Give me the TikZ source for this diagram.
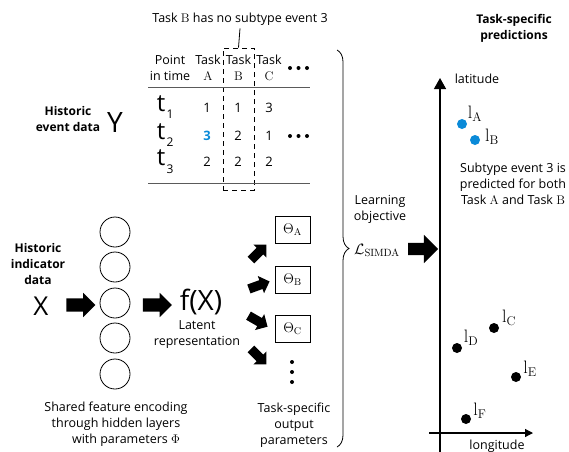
\documentclass[tikz,border=0pt]{standalone}
\usepackage{fix-cm}
\usepackage[no-math]{fontspec}
\setmainfont{Open Sans}
\usetikzlibrary{shapes.arrows,decorations.pathreplacing,arrows.meta}
\definecolor{ptblue}{RGB}{10,138,216}
\definecolor{rulegray}{RGB}{90,90,90}
\begin{document}
\begin{tikzpicture}[x=1pt,y=-1pt,
  txt/.style={font=\fontsize{12.5}{16}\selectfont, align=center, inner sep=0pt},
  boldtxt/.style={font=\fontsize{12}{16}\selectfont\bfseries, align=center, inner sep=0pt},
  hdr/.style={font=\fontsize{12.5}{16}\selectfont, align=center, inner sep=0pt},
  num/.style={font=\fontsize{13}{13}\selectfont, inner sep=0pt},
  tt/.style={font=\fontsize{24}{24}\selectfont, inner sep=0pt},
  tsub/.style={font=\fontsize{12}{12}\selectfont, inner sep=0pt},
  big/.style={font=\fontsize{28}{28}\selectfont, inner sep=0pt},
  fatarrow/.style={single arrow, fill=black, draw=none, inner sep=6.5pt,
     single arrow head extend=5.5pt, single arrow head indent=0pt, minimum height=29pt},
  smallarrow/.style={single arrow, fill=black, draw=none, inner sep=4.5pt,
     single arrow head extend=4.5pt, single arrow head indent=0pt, minimum height=22pt},
  neuron/.style={circle, draw, line width=0.8pt, minimum size=30pt, inner sep=0pt},
  thetabox/.style={draw, line width=0.8pt, minimum width=35pt, minimum height=27pt, inner sep=0pt,
     font=\fontsize{14}{14}\selectfont},
  pt/.style={circle, fill=black, inner sep=0pt, minimum size=10pt},
  ptb/.style={circle, fill=ptblue, inner sep=0pt, minimum size=10pt},
  lbl/.style={font=\fontsize{18}{18}\selectfont, inner sep=0pt},
  dotc/.style={circle, fill=black, inner sep=0pt, minimum size=4pt}
]
\useasboundingbox (0,0) rectangle (569,451);

% ---------------- table ----------------
\node[txt] (note) at (240,19) {Task $\mathrm{B}$ has no subtype event 3};
\node[draw, dashed, line width=0.8pt, dash pattern=on 5pt off 4pt,
      minimum width=31pt, minimum height=142pt, inner sep=0pt] (dbox) at (238.5,119) {};
\draw[line width=0.8pt] ([yshift=-3pt]note.south) -- (dbox.north);

\node[hdr] (hpt) at (170,68) {Point\\in time};
\node[hdr] (hA) at (208,68) {Task\\$\mathrm{A}$};
\node[hdr] (hB) at (238.5,68) {Task\\$\mathrm{B}$};
\node[hdr] (hC) at (269,68) {Task\\$\mathrm{C}$};
\node[dotc] (hd1) at (290,68) {};
\node[dotc] (hd2) at (298.5,68) {};
\node[dotc] (hd3) at (307,68) {};

\coordinate (r1a) at (148,87); \coordinate (r1b) at (310,87);
\coordinate (r2a) at (148,183); \coordinate (r2b) at (310,183);
\draw[line width=0.9pt, rulegray] (r1a) -- (r1b);
\draw[line width=0.9pt, rulegray] (r2a) -- (r2b);

\node[tt] (t1) at (161,104) {t};
\node[tsub] (t1s) at (170,114) {1};
\node[tt] (t2) at (161,132) {t};
\node[tsub] (t2s) at (170,142) {2};
\node[tt] (t3) at (161,158) {t};
\node[tsub] (t3s) at (170,169) {3};

\node[num] (a1) at (207,108) {1};
\node[num] (b1) at (238,108) {1};
\node[num] (c1) at (269,108) {3};
\node[num, text=ptblue, font=\fontsize{13}{13}\selectfont\bfseries] (a2) at (207,136) {3};
\node[num] (b2) at (238,136) {2};
\node[num] (c2) at (269,136) {1};
\node[dotc] (rd1) at (290,136) {};
\node[dotc] (rd2) at (298.5,136) {};
\node[dotc] (rd3) at (307,136) {};
\node[num] (a3) at (207,162) {2};
\node[num] (b3) at (238,162) {2};
\node[num] (c3) at (269,162) {2};

\node[boldtxt] (hed) at (68,119) {Historic\\event data};
\node[big] (Y) at (115,122) {Y};

% ---------------- network ----------------
\node[boldtxt] (hid) at (38,264) {Historic\\indicator\\data};
\node[big, font=\fontsize{26}{26}\selectfont] (X) at (41,306) {X};

\node[neuron] (n1) at (115,232) {};
\node[neuron] (n2) at (115,267) {};
\node[neuron] (n3) at (115,303) {};
\node[neuron] (n4) at (115,338) {};
\node[neuron] (n5) at (115,374) {};

\node[fatarrow] (arrX) at (77.5,305) {};
\node[fatarrow] (arrF) at (154,305) {};

\node[big] (fX) at (201,302) {f(X)};
\node[txt] (lat) at (197,335) {Latent\\representation};

\node[thetabox] (thA) at (292.5,230) {$\Theta_{\mathrm{A}}$};
\node[thetabox] (thB) at (292.5,280) {$\Theta_{\mathrm{B}}$};
\node[thetabox] (thC) at (292.5,329) {$\Theta_{\mathrm{C}}$};
\node[dotc] (vd1) at (292,362) {};
\node[dotc] (vd2) at (292,372) {};
\node[dotc] (vd3) at (292,382) {};

\node[smallarrow, rotate=45] (s1) at (257,254) {};
\node[smallarrow, rotate=20] (s2) at (257,286) {};
\node[smallarrow, rotate=-30] (s3) at (256,320) {};
\node[smallarrow, rotate=-45] (s4) at (257,355) {};

\node[txt] (shared) at (116,424) {Shared feature encoding\\through hidden layers\\\hspace*{1.6em}with parameters $\Phi$};
\node[txt] (tsop) at (294,425) {Task-specific\\output\\parameters};

\draw[line width=0.8pt, decorate, decoration={brace, amplitude=12pt}] (337,50) -- (337,447);

\node[txt] (lobj) at (380,209) {Learning\\objective};
\node[inner sep=0pt, font=\fontsize{15}{15}\selectfont] (L) at (377,250) {$\mathcal{L}_{\mathrm{SIMDA}}$};
\node[fatarrow, inner sep=6pt, single arrow head extend=8pt, minimum height=30pt] (arrL) at (420,249) {};

% ---------------- predictions ----------------
\node[boldtxt] (tsp) at (514,28) {Task-specific\\predictions};
\coordinate (vbot) at (440,455);
\coordinate (vtop) at (440,78);
\coordinate (hl) at (429,433);
\coordinate (hr) at (533,433);
\draw[line width=1.4pt, -{Triangle[length=11pt,width=12pt]}] (vbot) -- (vtop);
\draw[line width=1.2pt, -{Triangle[length=8pt,width=8pt]}] (hl) -- (hr);
\node[txt] (latt) at (477,79) {latitude};
\node[txt] (lon) at (497,446) {longitude};

\node[ptb] (pA) at (462,124) {};
\node[lbl] (lA) at (475,114) {$\mathrm{l}_{\mathrm{A}}$};
\node[ptb] (pB) at (475,140) {};
\node[lbl] (lB) at (492,137) {$\mathrm{l}_{\mathrm{B}}$};
\node[txt] (sub3) at (513,184) {Subtype event 3 is\\predicted for both\\Task $\mathrm{A}$ and Task $\mathrm{B}$};

\node[pt] (pC) at (494,328) {};
\node[lbl] (lC) at (509,318) {$\mathrm{l}_{\mathrm{C}}$};
\node[pt] (pD) at (457,348) {};
\node[lbl] (lD) at (471,338) {$\mathrm{l}_{\mathrm{D}}$};
\node[pt] (pE) at (516,377) {};
\node[lbl] (lE) at (530,369) {$\mathrm{l}_{\mathrm{E}}$};
\node[pt] (pF) at (466,419) {};
\node[lbl] (lF) at (480,411) {$\mathrm{l}_{\mathrm{F}}$};
\end{tikzpicture}
\end{document}
